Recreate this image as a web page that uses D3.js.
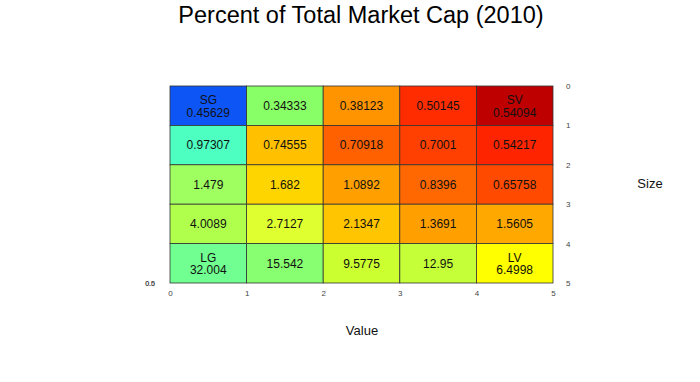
<!DOCTYPE html>
<html>
<head>
    <title>Percent of Total Market Cap (2010)</title>
    <script src="https://d3js.org/d3.v7.min.js"></script>
    <style type="text/css">
        html, body { margin: 0; background: #fff; }
        text { font-family: Arial, "Liberation Sans", sans-serif; }
    </style>
</head>
<body>
<div id="chart"></div>
<script type="text/javascript">
    // rows top (small) to bottom (large), columns growth -> value
    var rowValues = [
        [0.45629, 0.34333, 0.38123, 0.50145, 0.54094],
        [0.97307, 0.74555, 0.70918, 0.7001, 0.54217],
        [1.479, 1.682, 1.0892, 0.8396, 0.65758],
        [4.0089, 2.7127, 2.1347, 1.3691, 1.5605],
        [32.004, 15.542, 9.5775, 12.95, 6.4998]
    ];
    var cornerLabels = { "0,0": "SG", "0,4": "SV", "4,0": "LG", "4,4": "LV" };
    var cellColors = [
        ["#0d55f5", "#88ff66", "#ff9400", "#ff2c00", "#bf0000"],
        ["#4dffc0", "#ffc000", "#ff6000", "#ff4000", "#ff2400"],
        ["#a0ff60", "#ffd500", "#ffa000", "#ff6800", "#ff4a00"],
        ["#b0ff4c", "#e0ff30", "#ffc500", "#ffa000", "#ffa800"],
        ["#70ff90", "#88ff70", "#ccff30", "#c4ff38", "#ffff00"]
    ];
    var xTicks = [0, 1, 2, 3, 4, 5];
    var yTicks = [0, 1, 2, 3, 4, 5];

    var width = 700, height = 382;
    var svg = d3.select("#chart").append("svg")
        .attr("width", width).attr("height", height);

    var x = d3.scaleLinear().domain([0, 5]).range([170, 553]);
    var y = d3.scaleLinear().domain([0, 5]).range([86, 283]);

    var cells = [];
    rowValues.forEach(function(row, r) {
        row.forEach(function(v, c) {
            cells.push({ r: r, c: c, v: v, label: cornerLabels[r + "," + c] });
        });
    });

    var g = svg.append("g");
    g.selectAll("rect").data(cells).enter().append("rect")
        .attr("x", function(d) { return x(d.c); })
        .attr("y", function(d) { return y(d.r); })
        .attr("width", function(d) { return x(d.c + 1) - x(d.c); })
        .attr("height", function(d) { return y(d.r + 1) - y(d.r); })
        .attr("fill", function(d) { return cellColors[d.r][d.c]; })
        .attr("stroke", "#333")
        .attr("stroke-width", 0.8);

    var txt = g.selectAll("text.val").data(cells).enter().append("text")
        .attr("class", "val")
        .attr("text-anchor", "middle")
        .attr("font-size", 12)
        .attr("fill", "#111")
        .attr("x", function(d) { return (x(d.c) + x(d.c + 1)) / 2; })
        .attr("y", function(d) { return (y(d.r) + y(d.r + 1)) / 2; });
    txt.each(function(d) {
        var t = d3.select(this);
        if (d.label) {
            t.append("tspan").attr("x", t.attr("x")).attr("dy", "-0.15em").text(d.label);
            t.append("tspan").attr("x", t.attr("x")).attr("dy", "1.05em").text(d.v);
        } else {
            t.attr("dy", "0.35em").text(d.v);
        }
    });

    // bottom axis
    var xAxis = d3.axisBottom(x).tickValues(xTicks).tickSize(0).tickPadding(7)
        .tickFormat(d3.format("d"));
    svg.append("g").attr("transform", "translate(0,283)").call(xAxis)
        .call(function(s) { s.select(".domain").remove(); })
        .selectAll("text").attr("font-size", 8).attr("fill", "#444")
        .attr("font-family", "Arial, sans-serif");

    // right axis
    var yAxis = d3.axisRight(y).tickValues(yTicks).tickSize(0).tickPadding(13)
        .tickFormat(d3.format("d"));
    svg.append("g").attr("transform", "translate(553,0)").call(yAxis)
        .call(function(s) { s.select(".domain").remove(); })
        .selectAll("text").attr("font-size", 8).attr("fill", "#444")
        .attr("font-family", "Arial, sans-serif");

    // overlapping stray labels at the left
    ["0.0", "0.5"].forEach(function(s) {
        svg.append("text").attr("x", 150).attr("y", 286)
            .attr("font-size", 7).attr("fill", "#444").attr("text-anchor", "middle")
            .text(s);
    });

    svg.append("text").attr("x", 361).attr("y", 23)
        .attr("text-anchor", "middle").attr("font-size", 23.5).attr("fill", "#000")
        .text("Percent of Total Market Cap (2010)");

    svg.append("text").attr("x", 362).attr("y", 335)
        .attr("text-anchor", "middle").attr("font-size", 13).attr("fill", "#111")
        .text("Value");

    svg.append("text").attr("x", 650).attr("y", 188)
        .attr("text-anchor", "middle").attr("font-size", 13).attr("fill", "#111")
        .text("Size");
</script>
</body>
</html>
